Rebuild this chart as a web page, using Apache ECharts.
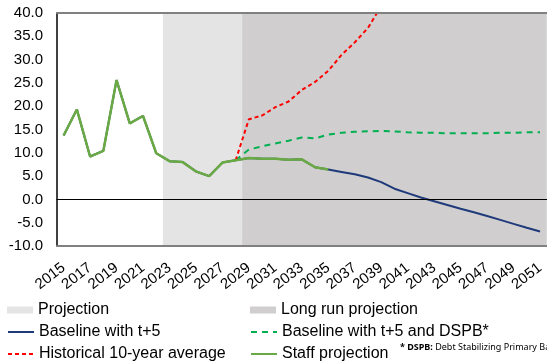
<!DOCTYPE html>
<html>
<head>
<meta charset="utf-8">
<script src="https://cdn.jsdelivr.net/npm/echarts@6/dist/echarts.min.js"></script>
<style>
  html, body { margin: 0; padding: 0; background: #fff; }
  #chart { width: 547px; height: 363px; }
</style>
</head>
<body>
<div id="chart"></div>
<script>
// years on the x axis
const years = []
for (let y = 2015; y <= 2051; y++) years.push(String(y))

// staff projection (green solid), 2015-2035
const staff = [13.7, 19.3, 9.2, 10.4, 25.6, 16.3, 17.9, 9.9, 8.2, 8.0, 6.0, 5.0, 7.9, 8.4, 8.9, 8.7, 8.7, 8.5, 8.6, 6.9, 6.4]
// baseline with t+5 (navy), 2015-2051
const baseline = [13.7, 19.3, 9.2, 10.4, 25.6, 16.3, 17.9, 9.9, 8.2, 8.0, 6.0, 5.0, 7.9, 8.4, 8.9, 8.7, 8.7, 8.5, 8.6, 6.9, 6.4,
    5.9, 5.4, 4.7, 3.7, 2.3, 1.35, 0.4, -0.4, -1.2, -2.0, -2.75, -3.55, -4.4, -5.25, -6.1, -6.9]
// historical 10-year average (red dashed), from 2028
const historical = [null, null, null, null, null, null, null, null, null, null, null, null, null,
    8.4, 17.2, 18.0, 19.8, 21.0, 23.5, 25.2, 27.6, 31.0, 33.7, 36.8, 41.5, 47.0, 53.0]
// baseline with t+5 and DSPB (green dashed), from 2028
const dspb = [null, null, null, null, null, null, null, null, null, null, null, null, null,
    8.4, 10.7, 11.4, 12.0, 12.6, 13.3, 13.1, 13.9, 14.3, 14.5, 14.6, 14.7, 14.6, 14.4, 14.3, 14.3,
    14.2, 14.2, 14.2, 14.2, 14.3, 14.3, 14.4, 14.4]

// shaded periods (first year of each)
const projectionStart = 2023
const longRunStart = 2029
const lastYear = 2051

const chart = echarts.init(document.getElementById('chart'))
const font = 'Liberation Sans, Arial, sans-serif'

const legendItem = (name, left, top, isArea) => ({
    data: [isArea ? { name: name, icon: 'rect' } : name],
    left: left,
    top: top,
    padding: 0,
    itemWidth: 26,
    itemHeight: 7,
    itemGap: 0,
    // hide the marker dot that line series put in the middle of the legend icon
    itemStyle: isArea ? {} : { opacity: 0 },
    textStyle: { fontFamily: font, fontSize: 16, color: '#000' },
})

chart.setOption({
    animation: false,
    grid: { left: 57, top: 13, right: 0, bottom: 117, containLabel: false },
    legend: [
        legendItem('Projection', 7, 302, true),
        legendItem('Long run projection', 250, 302, true),
        legendItem('Baseline with t+5', 7, 324),
        legendItem('Baseline with t+5 and DSPB*', 250, 324),
        legendItem('Historical 10-year average', 7, 346),
        legendItem('Staff projection', 250, 346),
    ],
    xAxis: [
        {
            type: 'category',
            data: years,
            position: 'bottom',
            z: 10,
            axisLine: { onZero: false, lineStyle: { color: '#808080', width: 2 } },
            axisTick: { show: false },
            axisLabel: { interval: 1, rotate: 38, fontFamily: font, fontSize: 15, color: '#000', margin: 20 },
        },
        {
            type: 'category',
            data: years,
            position: 'bottom',
            z: 10,
            axisLine: { onZero: true, lineStyle: { color: '#000', width: 1 } },
            axisTick: { inside: true, interval: 0, length: 4, lineStyle: { color: '#000' } },
            axisLabel: { show: false },
        },
        {
            type: 'value',
            show: false,
            min: 2014.5,
            max: lastYear + 0.5,
        },
        {
            type: 'category',
            data: years,
            position: 'top',
            z: 10,
            axisLine: { lineStyle: { color: '#808080', width: 2 } },
            axisTick: { show: false },
            axisLabel: { show: false },
        },
    ],
    yAxis: {
        type: 'value',
        min: -10,
        max: 40,
        interval: 5,
        z: 10,
        splitLine: { show: false },
        axisTick: { show: false },
        axisLine: { show: true, onZero: false, lineStyle: { color: '#000', width: 1.5 } },
        axisLabel: {
            fontFamily: font, fontSize: 15, color: '#000', margin: 14,
            formatter: (v) => v.toFixed(1),
        },
    },
    series: [
        {
            name: 'Projection',
            type: 'line',
            xAxisIndex: 2,
            data: [],
            z: 0,
            itemStyle: { color: '#e4e4e4' },
            lineStyle: { color: '#e4e4e4' },
            markArea: {
                silent: true,
                itemStyle: { color: '#e4e4e4' },
                data: [[{ xAxis: projectionStart - 0.5 }, { xAxis: lastYear + 0.5 }]],
            },
        },
        {
            name: 'Long run projection',
            type: 'line',
            xAxisIndex: 2,
            data: [],
            z: 1,
            itemStyle: { color: '#d0cecf' },
            lineStyle: { color: '#d0cecf' },
            markArea: {
                silent: true,
                itemStyle: { color: '#d0cecf' },
                data: [[{ xAxis: longRunStart - 0.5 }, { xAxis: lastYear + 0.5 }]],
            },
        },
        {
            name: 'Baseline with t+5',
            type: 'line',
            data: baseline,
            z: 3,
            symbol: 'none',
            lineStyle: { color: '#1f3a7a', width: 2 },
            itemStyle: { color: '#1f3a7a' },
        },
        {
            name: 'Baseline with t+5 and DSPB*',
            type: 'line',
            data: dspb,
            z: 4,
            symbol: 'none',
            lineStyle: { color: '#00b050', width: 2, type: [6, 5] },
            itemStyle: { color: '#00b050' },
        },
        {
            name: 'Historical 10-year average',
            type: 'line',
            data: historical,
            z: 4,
            symbol: 'none',
            lineStyle: { color: '#ff0000', width: 2, type: [4, 3] },
            itemStyle: { color: '#ff0000' },
        },
        {
            name: 'Staff projection',
            type: 'line',
            data: staff,
            z: 5,
            symbol: 'none',
            lineStyle: { color: '#6aaa44', width: 2.5 },
            itemStyle: { color: '#6aaa44' },
        },
    ],
    graphic: [
        {
            type: 'text',
            left: 400,
            top: 343,
            style: {
                text: '{b|* DSPB:} Debt Stabilizing Primary Balance',
                fontFamily: 'Noto Sans, sans-serif',
                fontSize: 9,
                fill: '#000',
                rich: { b: { fontWeight: 'bold', fontSize: 9, fontFamily: 'Noto Sans, sans-serif' } },
            },
        },
    ],
})
</script>
</body>
</html>
